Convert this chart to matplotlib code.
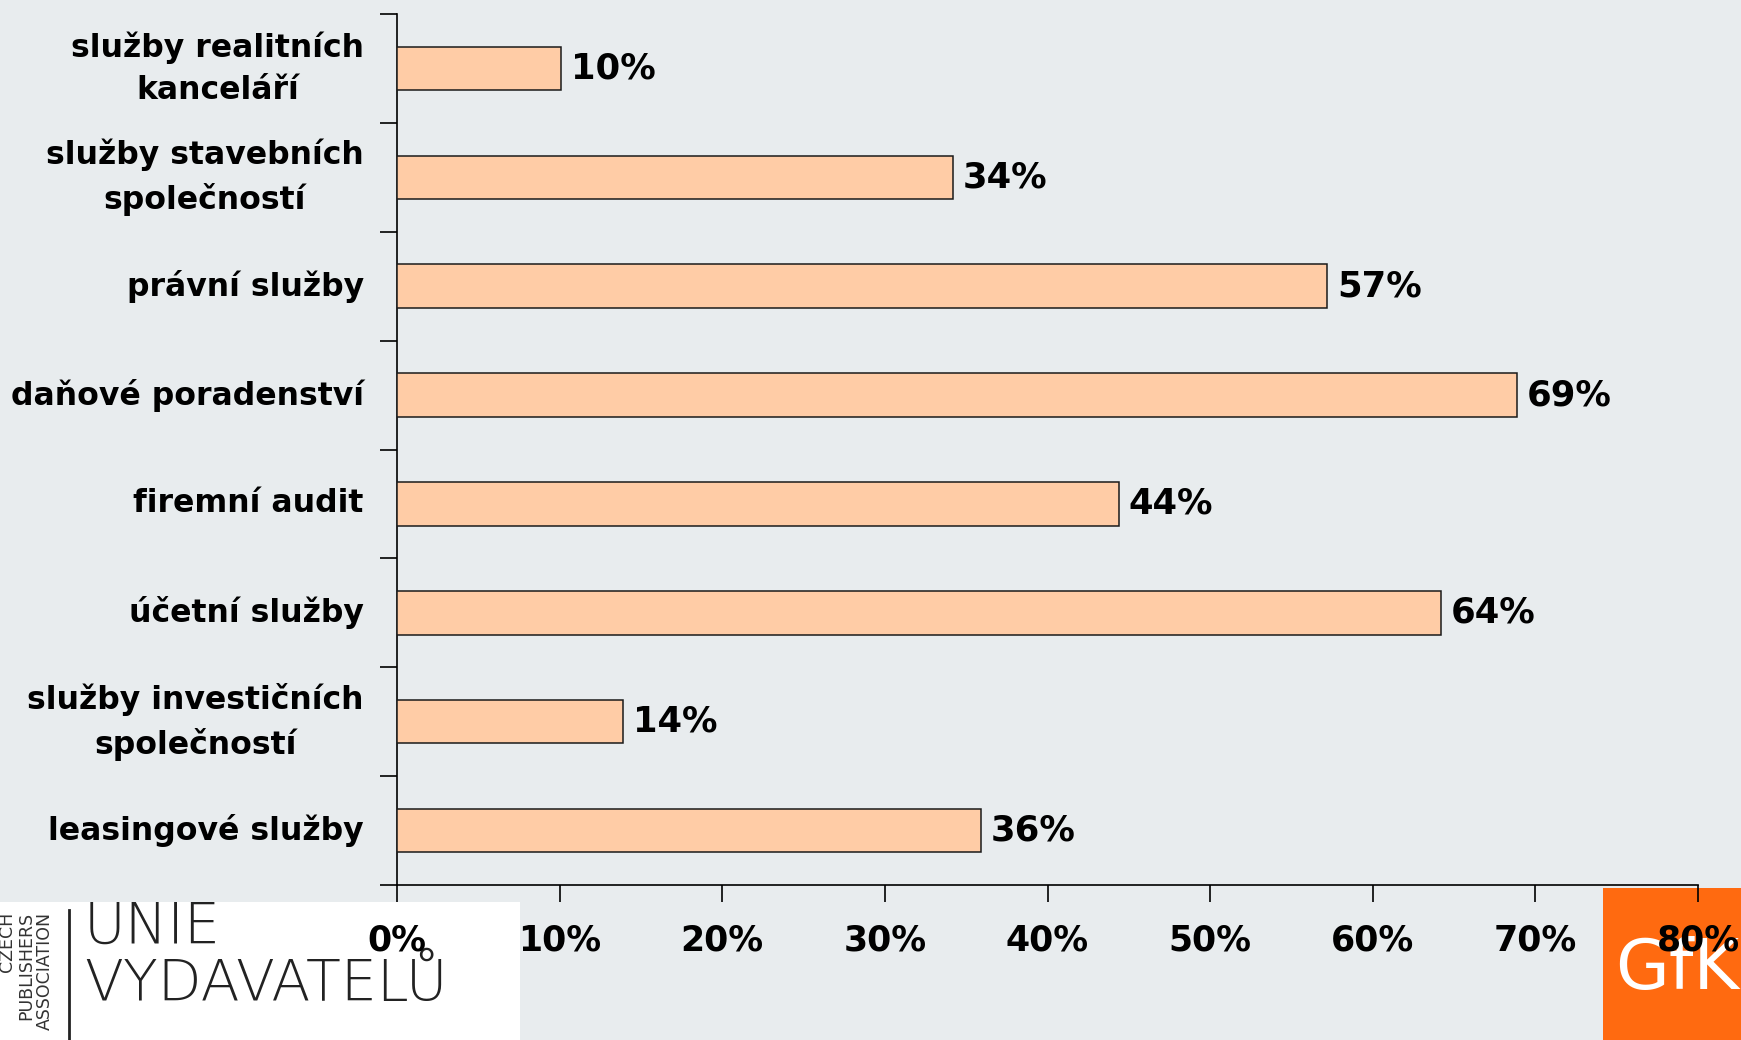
import matplotlib.pyplot as plt
from matplotlib.patches import Rectangle
from matplotlib.lines import Line2D
import numpy as np

# -----------------------------
# data
# -----------------------------
categories = [
    "služby realitních\nkanceláří",
    "služby stavebních\nspolečností",
    "právní služby",
    "daňové poradenství",
    "firemní audit",
    "účetní služby",
    "služby investičních\nspolečností",
    "leasingové služby",
]
values = [10.1, 34.2, 57.2, 68.9, 44.4, 64.2, 13.9, 35.9]
xticks = [0, 10, 20, 30, 40, 50, 60, 70, 80]

bg = "#E8ECEE"
bar_color = "#FFCCA6"
gfk_orange = "#FF6A10"

W, H = 1741, 1040
fig = plt.figure(figsize=(W / 100, H / 100), dpi=100, facecolor=bg)
ax = fig.add_axes([397 / W, 1 - 885 / H, (1698 - 397) / W, (885 - 14) / H])
ax.set_facecolor(bg)

y = np.arange(len(categories))
ax.barh(y, values, height=0.4, color=bar_color, edgecolor="#1a1a1a", linewidth=1.1, zorder=3)

for yi, v in zip(y, values):
    ax.annotate(f"{v:.0f}%", (v, yi), xytext=(7, 0), textcoords="offset points",
                va="center", ha="left", fontsize=25.5, fontweight="bold")

ax.set_xlim(0, 80)
ax.set_ylim(len(categories) - 0.5, -0.5)

ax.set_xticks(xticks)
ax.set_xticklabels([f"{t}%" for t in xticks], fontsize=25, fontweight="bold")
ax.tick_params(axis="x", length=12, width=1.2, pad=16, direction="out")

# category labels placed at band centres, ticks at band boundaries
ax.set_yticks(np.arange(-0.5, len(categories), 1.0))
ax.set_yticklabels([])
ax.tick_params(axis="y", length=12, width=1.2, direction="out")
for yi, lab in zip(y, categories):
    ax.text(-0.0255, yi, lab, transform=ax.get_yaxis_transform(), ha="right", va="center",
            multialignment="center", fontsize=22.7, fontweight="bold", linespacing=1.45)

for s in ["top", "right"]:
    ax.spines[s].set_visible(False)
for s in ["left", "bottom"]:
    ax.spines[s].set_linewidth(1.2)

# -----------------------------
# logos (behind the tick labels)
# -----------------------------
fig.add_artist(Rectangle((0, 0), 520 / W, (H - 902) / H, transform=fig.transFigure,
                         facecolor="white", edgecolor="none", zorder=-1))
fig.add_artist(Line2D([69 / W, 69 / W], [0, (H - 910) / H], transform=fig.transFigure,
                      color="#222222", linewidth=2, zorder=-1))
for xx, word in [(7, "CZECH"), (26, "PUBLISHERS"), (45, "ASSOCIATION")]:
    fig.text(xx / W, 1 - 912 / H, word, rotation=90, ha="center", va="top",
             fontsize=12.5, color="#333333", zorder=-1)
fig.text(84 / W, 1 - 944 / H, "UNIE", fontsize=41, family="DejaVu Sans",
         fontweight=200, color="#222222", ha="left", va="baseline", zorder=-1)
fig.text(84 / W, 1 - 1001 / H, "VYDAVATELŮ", fontsize=41, family="DejaVu Sans",
         fontweight=200, color="#222222", ha="left", va="baseline", zorder=-1)

fig.add_artist(Rectangle((1603 / W, 0), (W - 1603) / W, (H - 888) / H,
                         transform=fig.transFigure, facecolor=gfk_orange,
                         edgecolor="none", zorder=-1))
fig.text(1677 / W, 1 - 989 / H, "GfK", fontsize=50, color="white",
         ha="center", va="baseline", zorder=-1)

plt.savefig("out.png", dpi=100, facecolor=bg)
